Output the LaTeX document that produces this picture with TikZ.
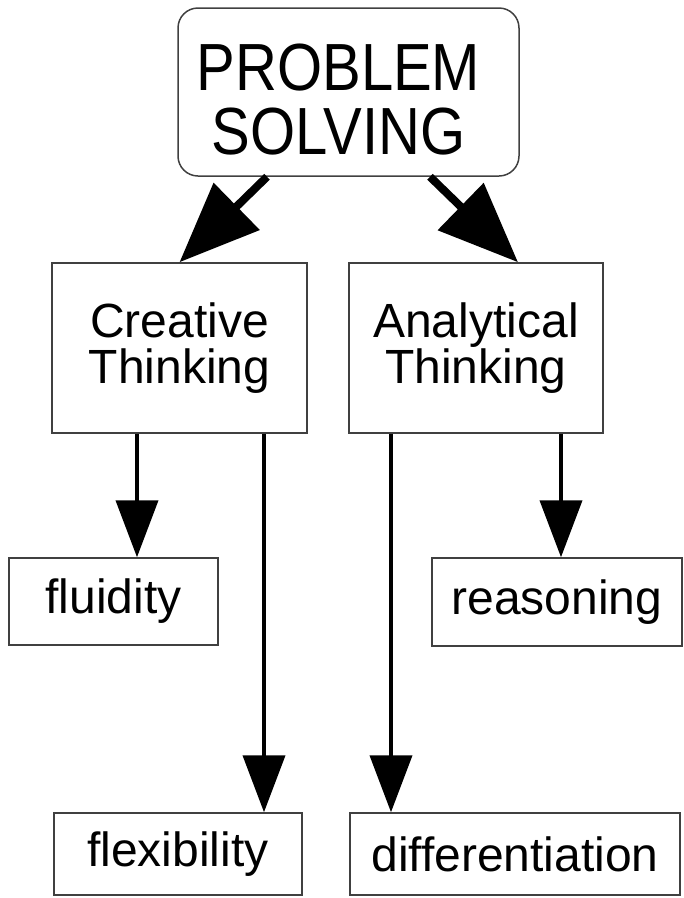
\documentclass[tikz,border=0pt]{standalone}
\usepackage{fontspec}
\usepackage{graphicx}
\setmainfont{Liberation Sans}
\usetikzlibrary{arrows.meta}
\tikzset{
  box/.style={draw=black!75, line width=1.5pt, rectangle, align=center, inner sep=0pt},
  leaf/.style={box, font=\fontsize{48}{46}\selectfont},
  thin arrow/.style={line width=4pt, -{Triangle[length=57pt,width=42pt]}},
  fat arrow/.style={line width=8pt, -{Triangle[length=80pt,width=64pt]}}
}
\begin{document}
\begin{tikzpicture}[x=1pt,y=-1pt]
\useasboundingbox (0,0) rectangle (684,898);
\node[box, rounded corners=20pt, minimum width=341pt, minimum height=168pt, font=\fontsize{58}{52}\selectfont] (ps) at (348.5,92){\hspace*{-20pt}\raisebox{-16pt}[\height][\depth]{\scalebox{1}[1.15]{\begin{tabular}{@{}c@{}}PROBLEM\\SOLVING\end{tabular}}}};
\node[leaf, minimum width=255pt, minimum height=170pt] (ct) at (179.5,348){Creative\\Thinking};
\node[leaf, minimum width=254pt, minimum height=170pt] (at) at (476,348){Analytical\\Thinking};
\node[leaf, minimum width=209pt, minimum height=87pt] (fl) at (113.5,601.5){fluidity};
\node[leaf, minimum width=250pt, minimum height=88pt] (re) at (557,602){reasoning};
\node[leaf, minimum width=248pt, minimum height=82pt] (fx) at (178,854){flexibility};
\node[leaf, minimum width=330pt, minimum height=82pt] (di) at (515,854){differentiation};
\draw[fat arrow] ([xshift=-81.5pt]ps.south) -- (ct.north);
\draw[fat arrow] ([xshift=81.5pt]ps.south) -- ([xshift=42pt]at.north);
\draw[thin arrow] ([xshift=-42.5pt]ct.south) -- ([xshift=-42.5pt]ct.south |- fl.north);
\draw[thin arrow] ([xshift=84.5pt]ct.south) -- ([xshift=84.5pt]ct.south |- fx.north);
\draw[thin arrow] ([xshift=-85pt]at.south) -- ([xshift=-85pt]at.south |- di.north);
\draw[thin arrow] ([xshift=85pt]at.south) -- ([xshift=85pt]at.south |- re.north);
\end{tikzpicture}
\end{document}
